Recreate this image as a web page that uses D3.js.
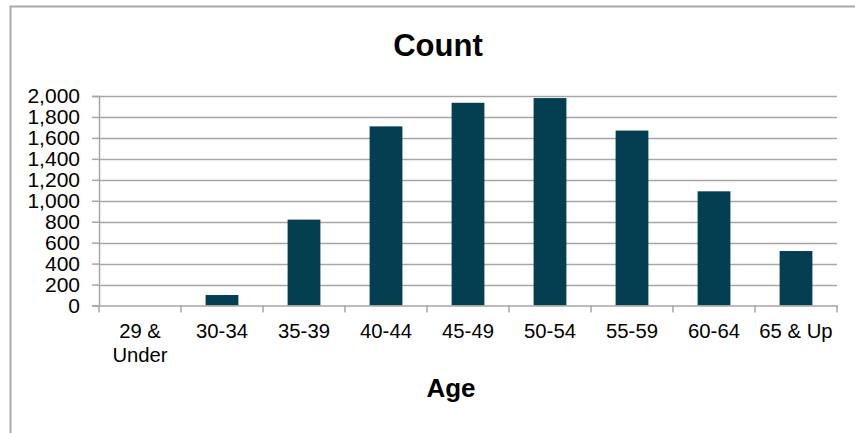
<!DOCTYPE html>
<html><head><meta charset="utf-8">
<script src="https://cdn.jsdelivr.net/npm/d3@7/dist/d3.min.js"></script>
<style>body{margin:0;background:#fff}svg{display:block;font-family:"Liberation Sans",Arial,sans-serif}</style>
</head><body><svg id="c" width="855" height="433"></svg>
<script>
const categories = ["29 & Under","30-34","35-39","40-44","45-49","50-54","55-59","60-64","65 & Up"];
const counts = [0, 100, 820, 1710, 1935, 1980, 1670, 1090, 520];
const yTicks = [0,200,400,600,800,1000,1200,1400,1600,1800,2000];
const title = "Count";
const xTitle = "Age";

const svg = d3.select("#c");
const L = 99, R = 837, T = 96, B = 305.5;
const x = d3.scaleBand().domain(categories).range([L, R]).paddingInner(0.6).paddingOuter(0.3);
const xb = d3.scaleBand().domain(categories).range([L, R]);
const y = d3.scaleLinear().domain([0, 2000]).range([B, T]);
const grid = "#a6a6a6";

// outer border
svg.append("path").attr("d", `M10.5,433 V6.5 H855`).attr("fill","none").attr("stroke","#aaa").attr("stroke-width",2);

// gridlines
svg.append("g").selectAll("line").data(yTicks.filter(d=>d>0)).join("line")
  .attr("x1", L).attr("x2", R).attr("y1", d=>Math.round(y(d))+0.5).attr("y2", d=>Math.round(y(d))+0.5)
  .attr("stroke", grid).attr("stroke-width", 1.5);

// y axis
const ya = svg.append("g").attr("transform",`translate(${L},0)`)
  .call(d3.axisLeft(y).tickValues(yTicks).tickSize(7).tickPadding(12).tickFormat(d3.format(",")));
ya.selectAll("path").attr("stroke", grid).attr("stroke-width",1.5);
ya.selectAll("line").attr("stroke", grid).attr("stroke-width",1.5);
ya.selectAll("text").attr("font-size", 21).attr("fill","#000").attr("font-family","Liberation Sans, Arial, sans-serif");

// bars
svg.append("g").selectAll("rect").data(counts).join("rect")
  .attr("x", (d,i)=>x(categories[i])).attr("width", x.bandwidth())
  .attr("y", d=>y(d)).attr("height", d=>B - y(d))
  .attr("fill", "#033f50");

// x axis
const xa = svg.append("g").attr("transform",`translate(0,${B})`);
xa.append("line").attr("x1",L).attr("x2",R+1).attr("y1",0.5).attr("y2",0.5).attr("stroke",grid).attr("stroke-width",1.5);
const bounds = categories.map(c=>xb(c)).concat([R]);
xa.selectAll("line.t").data(bounds).join("line").attr("class","t")
  .attr("x1",d=>d).attr("x2",d=>d).attr("y1",0).attr("y2",7).attr("stroke",grid).attr("stroke-width",1.5);

// x labels (wrap "29 & Under")
categories.forEach(c=>{
  const cx = xb(c) + xb.bandwidth()/2;
  let lines = [c];
  if (c === "29 & Under") lines = ["29 &","Under"];
  const t = svg.append("text").attr("x", cx).attr("y", 337.5).attr("text-anchor","middle")
    .attr("font-size", 20.3).attr("fill","#000");
  lines.forEach((ln,k)=> t.append("tspan").attr("x", cx).attr("dy", k===0?0:24.5).text(ln));
});

// titles
svg.append("text").attr("x", 438).attr("y", 56).attr("text-anchor","middle")
  .attr("font-size", 31).attr("font-weight","bold").attr("fill","#000").text(title);
svg.append("text").attr("x", 451).attr("y", 397).attr("text-anchor","middle")
  .attr("font-size", 26).attr("font-weight","bold").attr("fill","#000").text(xTitle);
</script></body></html>
